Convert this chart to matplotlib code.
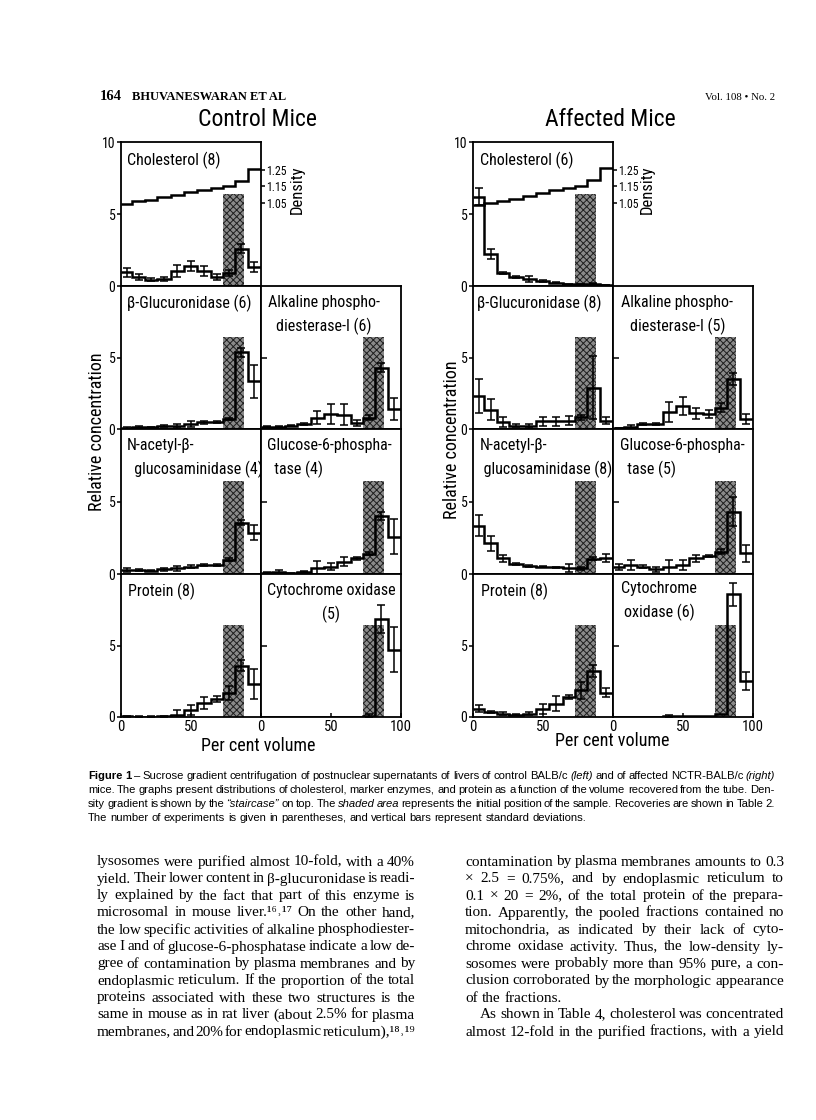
import numpy as np
import matplotlib
matplotlib.use('Agg')
import matplotlib.pyplot as plt
from matplotlib import font_manager

# fraction boundaries (per cent volume), shared by all profiles
edges = [0, 8, 17, 26, 35.5, 45, 54.5, 64, 73, 81.5, 90.5, 100]

# initial sample position (shaded band)
shade_lo, shade_hi, shade_top = 73, 88, 6.4

# ---- control mice ----
ctrl_density = [1.046, 1.06, 1.07, 1.084, 1.10, 1.114, 1.13, 1.14, 1.15, 1.186, 1.254]
ctrl_chol = [0.95, 0.6, 0.45, 0.48, 1.05, 1.4, 1.05, 0.6, 0.9, 2.6, 1.3]
ctrl_chol_err = [0.3, 0.2, 0.1, 0.12, 0.4, 0.35, 0.35, 0.2, 0.2, 0.3, 0.35]
ctrl_gluc = [0.07, 0.12, 0.12, 0.23, 0.23, 0.35, 0.47, 0.47, 0.7, 5.35, 3.35]
ctrl_gluc_err = [0.05, 0.1, 0.05, 0.08, 0.15, 0.2, 0.1, 0.08, 0.1, 0.3, 1.15]
ctrl_alk = [0.16, 0.16, 0.23, 0.35, 0.8, 1.05, 1.0, 0.42, 0.8, 4.3, 1.4]
ctrl_alk_err = [0.05, 0.05, 0.05, 0.08, 0.45, 0.7, 0.75, 0.2, 0.2, 0.3, 0.75]
ctrl_nag = [0.28, 0.28, 0.23, 0.32, 0.39, 0.5, 0.62, 0.62, 0.97, 3.55, 2.86]
ctrl_nag_err = [0.15, 0.05, 0.05, 0.12, 0.15, 0.12, 0.06, 0.06, 0.1, 0.2, 0.5]
ctrl_g6p = [0.1, 0.16, 0.05, 0.16, 0.39, 0.5, 0.85, 1.08, 1.4, 4.0, 2.58]
ctrl_g6p_err = [0.05, 0.15, 0.05, 0.05, 0.5, 0.25, 0.3, 0.08, 0.1, 0.3, 1.2]
ctrl_prot = [0.05, 0.03, 0.03, 0.05, 0.16, 0.47, 0.98, 1.28, 1.7, 3.6, 2.28]
ctrl_prot_err = [0.03, 0.02, 0.02, 0.03, 0.3, 0.35, 0.4, 0.2, 0.5, 0.4, 1.05]
ctrl_cyt = [0, 0, 0, 0, 0, 0, 0, 0, 0.1, 6.85, 4.7]
ctrl_cyt_err = [0, 0, 0, 0, 0, 0, 0, 0, 0.1, 1.0, 1.57]

# ---- affected mice ----
aff_density = [1.039, 1.05, 1.061, 1.077, 1.092, 1.109, 1.128, 1.138, 1.151, 1.187, 1.262]
aff_chol = [6.2, 2.2, 0.88, 0.64, 0.48, 0.36, 0.24, 0.12, 0.12, 0.17, 0.07]
aff_chol_err = [0.6, 0.35, 0.08, 0.05, 0.2, 0.05, 0.05, 0.03, 0.03, 0.05, 0.03]
aff_gluc = [2.33, 1.35, 0.51, 0.23, 0.23, 0.53, 0.53, 0.58, 0.81, 2.9, 0.58]
aff_gluc_err = [1.2, 0.75, 0.35, 0.1, 0.15, 0.3, 0.3, 0.3, 0.2, 2.2, 0.25]
aff_alk = [0.07, 0.16, 0.35, 0.35, 1.16, 1.63, 1.1, 1.05, 1.5, 3.5, 0.7]
aff_alk_err = [0.03, 0.1, 0.1, 0.1, 0.7, 0.63, 0.4, 0.3, 0.3, 0.4, 0.35]
aff_nag = [3.32, 2.12, 1.08, 0.69, 0.55, 0.5, 0.46, 0.41, 0.39, 1.05, 1.1]
aff_nag_err = [0.72, 0.5, 0.25, 0.05, 0.05, 0.05, 0.05, 0.25, 0.1, 0.1, 0.27]
aff_g6p = [0.46, 0.62, 0.5, 0.32, 0.5, 0.62, 1.08, 1.24, 1.54, 4.3, 1.43]
aff_g6p_err = [0.2, 0.35, 0.1, 0.15, 0.5, 0.35, 0.25, 0.1, 0.15, 1.0, 0.57]
aff_prot = [0.59, 0.35, 0.23, 0.16, 0.23, 0.59, 0.94, 1.41, 1.88, 3.22, 1.71]
aff_prot_err = [0.25, 0.05, 0.1, 0.05, 0.1, 0.35, 0.5, 0.15, 0.6, 0.4, 0.3]
aff_cyt = [0.02, 0.02, 0.02, 0.02, 0.05, 0.05, 0.05, 0.1, 0.2, 8.57, 2.51]
aff_cyt_err = [0, 0, 0, 0, 0.1, 0, 0, 0, 0, 0.78, 0.63]

density_ticks = [1.05, 1.15, 1.25]

W, H = 816, 1120
SERIF = ['Liberation Serif', 'DejaVu Serif']
SANS = ['Liberation Sans', 'DejaVu Sans']

# pick a condensed sans if one is installed, else a plain one at smaller size
installed = {f.name for f in font_manager.fontManager.ttflist}
NARROW = SANS
shrink = 0.86
for cand in ['Liberation Sans Narrow', 'Roboto Condensed', 'Open Sans Condensed',
             'DejaVu Sans Condensed', 'Noto Sans Condensed']:
    if cand in installed:
        NARROW = [cand, 'DejaVu Sans']
        shrink = 1.0
        break

plt.rcParams['hatch.linewidth'] = 0.7
fig = plt.figure(figsize=(W / 100, H / 100), dpi=100)
fig.patch.set_facecolor('white')

rows_y = [142, 286, 429, 574, 717]
# density offset so that 1.05 sits at 5.76 and 1.25 at 8.06 on the 0-10 scale
dens_per_unit = 0.2 / 2.3
dens_lo = 1.05 - 5.76 * dens_per_unit


def axes_px(x0, y0, x1, y1):
    return fig.add_axes([x0 / W, 1 - y1 / H, (x1 - x0) / W, (y1 - y0) / H])


def draw_panel(ax, vals, errs, col, row, label, lx, ly, ha):
    e = np.array(edges, dtype=float)
    v = np.array(vals, dtype=float)
    er = np.array(errs, dtype=float)
    ax.axvspan(shade_lo, shade_hi, ymin=0, ymax=shade_top / 10,
               facecolor='#8a8a8a', edgecolor='#1e1e1e', hatch='xxxxx',
               linewidth=0, zorder=1)
    ax.stairs(v, e, baseline=None, color='black', lw=1.8, zorder=3)
    mids = (e[:-1] + e[1:]) / 2
    m = er > 0
    ax.errorbar(mids[m], v[m], yerr=er[m], fmt='none', ecolor='black',
                elinewidth=1.1, capsize=2.6, capthick=1.1, zorder=4)
    ax.set_xlim(0, 100)
    ax.set_ylim(0, 10)
    for s in ax.spines.values():
        s.set_linewidth(1.3)
    if col == 0:
        yt = [0, 5, 10] if row == 0 else [0, 5]
        ax.set_yticks(yt)
        ax.set_yticklabels([str(t) for t in yt], family=NARROW, fontsize=10)
        ax.tick_params(axis='y', direction='out', length=3, width=1.1, pad=1)
    else:
        ax.set_yticks([5])
        ax.set_yticklabels([])
        ax.tick_params(axis='y', direction='in', length=4, width=1.1)
    if row == 3:
        xt = [0, 50] if col == 0 else [0, 50, 100]
        ax.set_xticks(xt)
        ax.set_xticklabels([str(t) for t in xt], family=NARROW, fontsize=10.5)
        ax.tick_params(axis='x', direction='in', length=3, width=1.1, pad=2)
    else:
        ax.set_xticks([])
    ax.text(lx, ly, label, transform=ax.transAxes, family=NARROW,
            fontsize=11.5 * shrink, ha=ha, va='top', multialignment=ha,
            linespacing=1.6)


def draw_group(xc, title, title_x, ylab_x, ylab_y, xlab_x, xlab_y, dens_x,
               density, panels):
    fig.text(title_x / W, 1 - 119 / H, title, family=NARROW, fontsize=17 * shrink,
             ha='center', va='center')
    for vals, errs, col, row, label, lx, ly, ha in panels:
        ax = axes_px(xc[col], rows_y[row], xc[col + 1], rows_y[row + 1])
        draw_panel(ax, vals, errs, col, row, label, lx, ly, ha)
        if row == 0:
            ax2 = ax.twinx()
            ax2.stairs(density, edges, baseline=None, color='black', lw=1.8)
            ax2.set_ylim(dens_lo, dens_lo + 10 * dens_per_unit)
            ax2.set_yticks(density_ticks)
            ax2.set_yticklabels(['%.2f' % t for t in density_ticks],
                                family=NARROW, fontsize=8.5)
            ax2.tick_params(axis='y', direction='out', length=3, width=1.1, pad=1)
            for s in ax2.spines.values():
                s.set_visible(False)
    fig.text(dens_x / W, 1 - 190 / H, 'Density', family=NARROW, fontsize=12,
             rotation=90, ha='center', va='center')
    fig.text(ylab_x / W, 1 - ylab_y / H, 'Relative concentration', family=NARROW,
             fontsize=13 * shrink, rotation=90, ha='center', va='center')
    fig.text(xlab_x / W, 1 - xlab_y / H, 'Per cent volume', family=NARROW,
             fontsize=13 * shrink, ha='center', va='center')


draw_group([121, 261, 401], 'Control Mice', 257, 97, 432, 258, 746, 297,
           ctrl_density, [
               (ctrl_chol, ctrl_chol_err, 0, 0, 'Cholesterol (8)', 0.04, 0.93, 'left'),
               (ctrl_gluc, ctrl_gluc_err, 0, 1, 'β-Glucuronidase (6)', 0.04, 0.94, 'left'),
               (ctrl_alk, ctrl_alk_err, 1, 1, 'Alkaline phospho-\ndiesterase-I (6)', 0.45, 0.94, 'center'),
               (ctrl_nag, ctrl_nag_err, 0, 2, 'N-acetyl-β-\n  glucosaminidase (4)', 0.04, 0.94, 'left'),
               (ctrl_g6p, ctrl_g6p_err, 1, 2, 'Glucose-6-phospha-\n  tase (4)', 0.04, 0.94, 'left'),
               (ctrl_prot, ctrl_prot_err, 0, 3, 'Protein (8)', 0.05, 0.94, 'left'),
               (ctrl_cyt, ctrl_cyt_err, 1, 3, 'Cytochrome oxidase\n(5)', 0.5, 0.94, 'center'),
           ])

draw_group([473, 613, 753], 'Affected Mice', 610, 452, 440, 612, 741, 647,
           aff_density, [
               (aff_chol, aff_chol_err, 0, 0, 'Cholesterol (6)', 0.05, 0.93, 'left'),
               (aff_gluc, aff_gluc_err, 0, 1, 'β-Glucuronidase (8)', 0.03, 0.94, 'left'),
               (aff_alk, aff_alk_err, 1, 1, 'Alkaline phospho-\ndiesterase-I (5)', 0.46, 0.94, 'center'),
               (aff_nag, aff_nag_err, 0, 2, 'N-acetyl-β-\n glucosaminidase (8)', 0.05, 0.94, 'left'),
               (aff_g6p, aff_g6p_err, 1, 2, 'Glucose-6-phospha-\n  tase (5)', 0.05, 0.94, 'left'),
               (aff_prot, aff_prot_err, 0, 3, 'Protein (8)', 0.06, 0.94, 'left'),
               (aff_cyt, aff_cyt_err, 1, 3, 'Cytochrome\noxidase (6)', 0.33, 0.95, 'center'),
           ])

# ---------------- page text ----------------
renderer = fig.canvas.get_renderer()


def put_line(text, x0, x1, y, family, size, justify=True):
    words = text.split(' ')
    objs = []
    for w in words:
        weight, style = 'normal', 'normal'
        if w.startswith('*') and w.endswith('*'):
            weight, w = 'bold', w.strip('*')
        if '_' in w:
            style, w = 'italic', w.replace('_', '')
        t = fig.text(0, 1 - y / H, w, family=family, fontsize=size,
                     fontweight=weight, fontstyle=style, va='center', ha='left')
        objs.append(t)
    widths = [t.get_window_extent(renderer).width for t in objs]
    space = size * 0.27 * 100 / 72
    if justify and len(objs) > 1:
        space = (x1 - x0 - sum(widths)) / (len(objs) - 1)
    x = x0
    for t, w in zip(objs, widths):
        t.set_x(x / W)
        x += w + space


fig.text(100 / W, 1 - 97 / H, '164', family=SERIF, fontsize=10.5, fontweight='bold',
         va='center')
fig.text(132 / W, 1 - 97 / H, 'BHUVANESWARAN ET AL', family=SERIF, fontsize=9,
         fontweight='bold', va='center')
fig.text(775 / W, 1 - 97 / H, 'Vol. 108 • No. 2', family=SERIF, fontsize=7.8,
         va='center', ha='right')

caption = [
    ('*Figure* *1* – Sucrose gradient centrifugation of postnuclear supernatants of livers of control '
     'BALB/c (_left_) and of affected NCTR-BALB/c (_right_)', True),
    ('mice. The graphs present distributions of cholesterol, marker enzymes, and protein as a function '
     'of the volume recovered from the tube. Den-', True),
    ('sity gradient is shown by the “_staircase_” on top. The _shaded_ _area_ represents the initial '
     'position of the sample. Recoveries are shown in Table 2.', True),
    ('The number of experiments is given in parentheses, and vertical bars represent standard deviations.',
     False),
]
for i, (line, just) in enumerate(caption):
    put_line(line, 88, 775, 776 + i * 14, SANS, 8.1, just)

left_col = [
    'lysosomes were purified almost 10-fold, with a 40%',
    'yield. Their lower content in β-glucuronidase is readi-',
    'ly explained by the fact that part of this enzyme is',
    'microsomal in mouse liver.¹⁶˒¹⁷ On the other hand,',
    'the low specific activities of alkaline phosphodiester-',
    'ase I and of glucose-6-phosphatase indicate a low de-',
    'gree of contamination by plasma membranes and by',
    'endoplasmic reticulum. If the proportion of the total',
    'proteins associated with these two structures is the',
    'same in mouse as in rat liver (about 2.5% for plasma',
    'membranes, and 20% for endoplasmic reticulum),¹⁸˒¹⁹',
]
right_col = [
    'contamination by plasma membranes amounts to 0.3',
    '× 2.5 = 0.75%, and by endoplasmic reticulum to',
    '0.1 × 20 = 2%, of the total protein of the prepara-',
    'tion. Apparently, the pooled fractions contained no',
    'mitochondria, as indicated by their lack of cyto-',
    'chrome oxidase activity. Thus, the low-density ly-',
    'sosomes were probably more than 95% pure, a con-',
    'clusion corroborated by the morphologic appearance',
    'of the fractions.',
    'As shown in Table 4, cholesterol was concentrated',
    'almost 12-fold in the purified fractions, with a yield',
]
for i, line in enumerate(left_col):
    put_line(line, 97, 415, 862 + i * 17, SERIF, 11)
for i, line in enumerate(right_col):
    x0 = 480 if i == 9 else 465
    put_line(line, x0, 784, 862 + i * 17, SERIF, 11, justify=(i != 8))

fig.savefig('out.png', dpi=100, facecolor='white')
